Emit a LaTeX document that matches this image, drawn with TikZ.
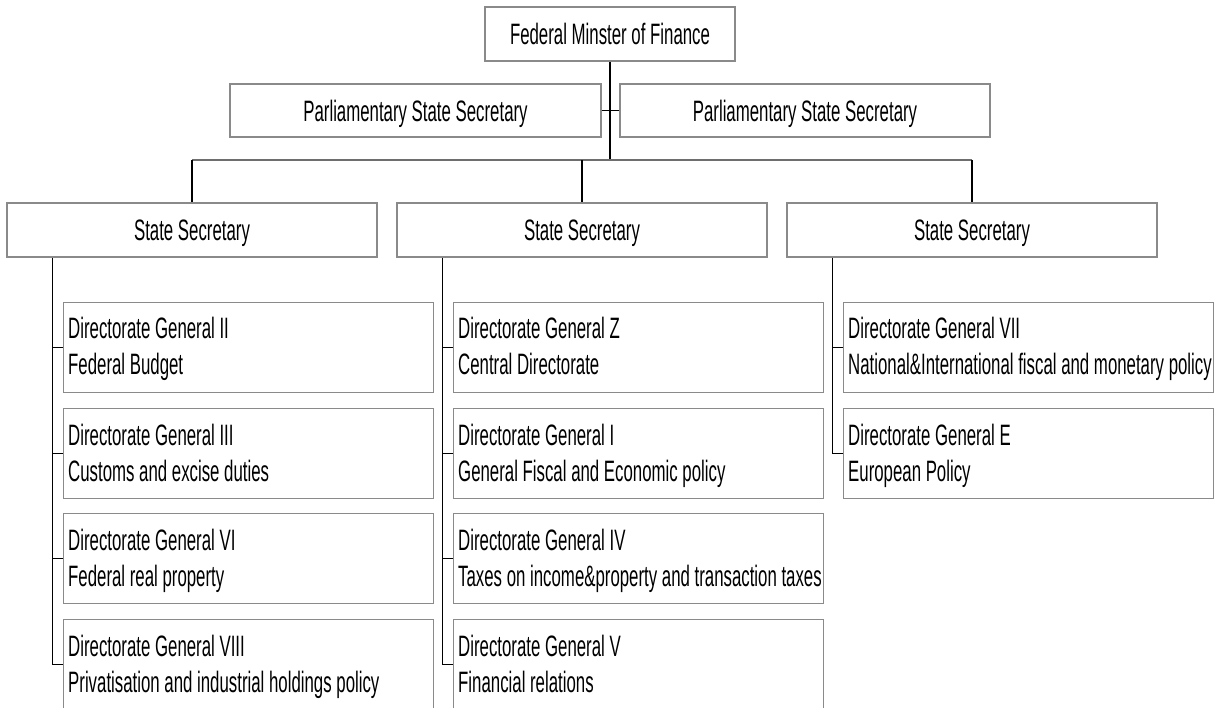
\documentclass[tikz,border=0pt]{standalone}
\usepackage{fontspec}
\newfontfamily\orgfont[FakeStretch=0.57]{Liberation Sans}
\definecolor{boxgray}{HTML}{8A8A8A}
\definecolor{busgray}{HTML}{6E6E6E}
\tikzset{
  box/.style={draw=boxgray, line width=1.2pt, inner sep=0pt,
    font=\orgfont\fontsize{29.5}{36}\selectfont, text height=21.2pt, text depth=0pt},
  dgbox/.style={draw=boxgray, line width=1.2pt, minimum width=370pt,
    minimum height=90pt, anchor=north west, inner sep=0pt},
  dgtext/.style={anchor=base west, inner sep=0pt,
    font=\orgfont\fontsize{29.5}{36}\selectfont},
  link/.style={draw=black, line width=1.1pt},
  busline/.style={draw=busgray, line width=1.5pt},
}
\newcommand{\dgtwo}[2]{\parbox[t]{368pt}{\raggedright #1\\#2}}
\begin{document}
\begin{tikzpicture}[x=1pt,y=-1pt]
\useasboundingbox (0,0) rectangle (1218,708);
\clip (0,0) rectangle (1218,708);
% top level
\node[box, minimum width=250pt, minimum height=54pt] (fm) at (610,34) {Federal Minster of Finance};
\node[box, minimum width=371pt, minimum height=53pt] (pl) at (415.5,110.5) {Parliamentary State Secretary};
\node[box, minimum width=370pt, minimum height=53pt] (pr) at (805,110.5) {Parliamentary State Secretary};
% state secretaries
\node[box, minimum width=370pt, minimum height=54pt] (ss1) at (192,230) {State Secretary};
\node[box, minimum width=370pt, minimum height=54pt] (ss2) at (582,230) {State Secretary};
\node[box, minimum width=370pt, minimum height=54pt] (ss3) at (972,230) {State Secretary};
% directorates, left column
\node[dgbox] (dg2) at (63,302) {};
\node[dgbox] (dg3) at (63,408) {};
\node[dgbox] (dg6) at (63,513) {};
\node[dgbox] (dg8) at (63,619) {};
% middle column
\node[dgbox] (dgz) at (453,302) {};
\node[dgbox] (dg1) at (453,408) {};
\node[dgbox] (dg4) at (453,513) {};
\node[dgbox] (dg5) at (453,619) {};
% right column
\node[dgbox] (dg7) at (843,302) {};
\node[dgbox] (dge) at (843,408) {};
% texts
\foreach \n/\a/\b in {dg2/Directorate General II/Federal Budget,
  dg3/Directorate General III/Customs and excise duties,
  dg6/Directorate General VI/Federal real property,
  dg8/Directorate General VIII/Privatisation and industrial holdings policy,
  dgz/Directorate General Z/Central Directorate,
  dg1/Directorate General I/General Fiscal and Economic policy,
  dg4/Directorate General IV/Taxes on income\&property and transaction taxes,
  dg5/Directorate General V/Financial relations,
  dg7/Directorate General VII/National\&International fiscal and monetary policy,
  dge/Directorate General E/European Policy}
  \node[dgtext] (\n t) at ([xshift=5pt,yshift=-37pt]\n.north west) {\dgtwo{\a}{\b}};
% connectors
\coordinate (busy) at (0,160);
\draw[link] (fm.south) -- (fm.south |- busy);
\draw[link] (pl.east) -- (pr.west);
\draw[busline] (ss1.north |- busy) -- (ss3.north |- busy);
\draw[link] (ss1.north |- busy) -- (ss1.north);
\draw[link] (ss2.north |- busy) -- (ss2.north);
\draw[link] (ss3.north |- busy) -- (ss3.north);
% spines
\draw[link] (ss1.south west) ++(46pt,0pt) coordinate (sp1) -- (sp1 |- dg8.west) -- (dg8.west);
\draw[link] (sp1 |- dg2.west) -- (dg2.west);
\draw[link] (sp1 |- dg3.west) -- (dg3.west);
\draw[link] (sp1 |- dg6.west) -- (dg6.west);
\draw[link] (ss2.south west) ++(46pt,0pt) coordinate (sp2) -- (sp2 |- dg5.west) -- (dg5.west);
\draw[link] (sp2 |- dgz.west) -- (dgz.west);
\draw[link] (sp2 |- dg1.west) -- (dg1.west);
\draw[link] (sp2 |- dg4.west) -- (dg4.west);
\draw[link] (ss3.south west) ++(46pt,0pt) coordinate (sp3) -- (sp3 |- dge.west) -- (dge.west);
\draw[link] (sp3 |- dg7.west) -- (dg7.west);
\end{tikzpicture}
\end{document}
